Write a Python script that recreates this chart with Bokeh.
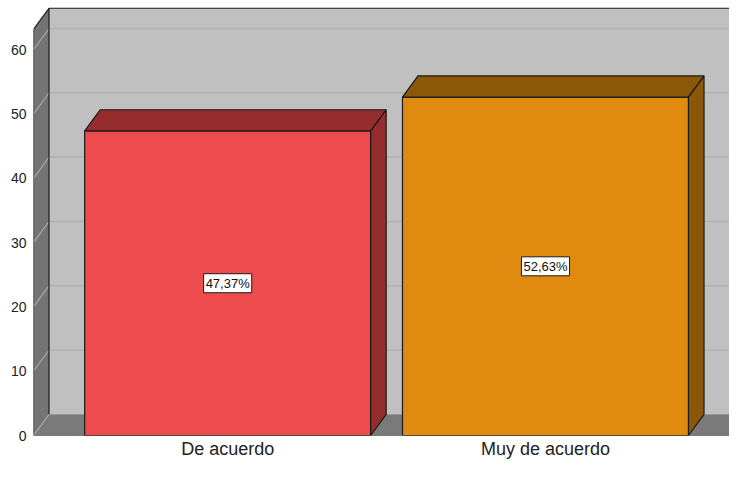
from bokeh.plotting import figure
from bokeh.models import Range1d, FixedTicker, ColumnDataSource
from bokeh.core.properties import value
from bokeh.embed import file_html
from bokeh.resources import INLINE

# ---------------- data ----------------
categories = ["De acuerdo", "Muy de acuerdo"]
percentages = [47.37, 52.63]
y_ticks = [0, 10, 20, 30, 40, 50, 60]
front_colors = ["#EE4B4D", "#E08A0F"]
shade_colors = ["#952D2F", "#8B5708"]

# ---------------- style / geometry ----------------
X0, X1 = 0.389, 2.611          # front plane extent (category units)
YMAX = max(percentages) * 1.2  # SPSS-style axis maximum
DX, DY = 0.0488, 3.3           # 3-D depth offset
BAR_W = 0.9
FONT = "Liberation Sans"
EDGE = "#1A1A1A"

p = figure(width=729, height=461,
           x_range=Range1d(X0, 2.579), y_range=Range1d(0, 67.66),
           output_backend="svg", toolbar_location=None,
           min_border_left=33, min_border_right=0,
           min_border_top=0, min_border_bottom=25)
p.outline_line_color = None
p.grid.visible = False
p.background_fill_color = "white"
p.border_fill_color = "white"

XR = X1 + DX + 0.1
# back wall
p.quad(left=[X0 + DX], right=[XR], bottom=[DY], top=[YMAX + DY],
       fill_color="#C0C0C0", line_color=None)
# back wall grid lines
gy = [t + DY for t in y_ticks[1:]]
p.segment(x0=[X0 + DX] * len(gy), x1=[XR] * len(gy), y0=gy, y1=gy,
          line_color="#B0B0B0", line_width=1.5)
# floor
p.patch(x=[X0, X1, X1 + DX, X0 + DX], y=[0, 0, DY, DY],
        fill_color="#7A7A7A", line_color=None)
# side wall
p.patch(x=[X0, X0 + DX, X0 + DX, X0], y=[0, DY, YMAX + DY, YMAX],
        fill_color="#747474", line_color=None)
# side wall grid lines
p.segment(x0=[X0] * len(y_ticks), x1=[X0 + DX] * len(y_ticks),
          y0=y_ticks, y1=[t + DY for t in y_ticks],
          line_color="#A8A8A8", line_width=1.2)
# wall edges
p.multi_line(xs=[[X0, X0], [X0, X0 + DX], [X0 + DX, XR], [X0 + DX, X0 + DX],
                 [X0, X1], [X1, X1 + DX]],
             ys=[[0, YMAX], [YMAX, YMAX + DY], [YMAX + DY, YMAX + DY], [DY, YMAX + DY],
                 [0, 0], [0, DY]],
             line_color=EDGE, line_width=1.2)

# bars
xc = [i + 1 for i in range(len(categories))]
left = [x - BAR_W / 2 for x in xc]
right = [x + BAR_W / 2 for x in xc]
src = ColumnDataSource(dict(x=xc, left=left, right=right, top=percentages,
                            bottom=[0] * len(xc), color=front_colors))
p.quad(left="left", right="right", bottom="bottom", top="top", source=src,
       fill_color="color", line_color=EDGE, line_width=1.2)
top_xs = [[l, r, r + DX, l + DX] for l, r in zip(left, right)]
top_ys = [[v, v, v + DY, v + DY] for v in percentages]
side_xs = [[r, r + DX, r + DX, r] for r in right]
side_ys = [[0, DY, v + DY, v] for v in percentages]
p.patches(xs=top_xs + side_xs, ys=top_ys + side_ys,
          fill_color=shade_colors + shade_colors,
          line_color=EDGE, line_width=1.2)

# value labels
lab = ColumnDataSource(dict(x=xc, y=[v / 2 for v in percentages],
                            t=[f"{v:.2f}".replace(".", ",") + "%" for v in percentages]))
p.text(x="x", y="y", text="t", source=lab, text_align="center",
       text_baseline="middle", text_font=value(FONT), text_font_size="13px",
       text_color="#111111", background_fill_color="white",
       border_line_color=EDGE, border_line_width=1, padding=2)

# axes
p.yaxis.ticker = FixedTicker(ticks=y_ticks)
p.yaxis.axis_line_color = None
p.yaxis.major_tick_line_color = None
p.yaxis.major_tick_out = 0
p.yaxis.major_tick_in = 0
p.yaxis.minor_tick_line_color = None
p.yaxis.major_label_standoff = 7
p.yaxis.major_label_text_font = FONT
p.yaxis.major_label_text_font_size = "14px"
p.yaxis.major_label_text_color = "#222222"

p.xaxis.ticker = FixedTicker(ticks=xc)
p.xaxis.major_label_overrides = {x: c for x, c in zip(xc, categories)}
p.xaxis.axis_line_color = None
p.xaxis.major_tick_line_color = None
p.xaxis.major_tick_out = 0
p.xaxis.major_tick_in = 0
p.xaxis.minor_tick_line_color = None
p.xaxis.major_label_standoff = 3
p.xaxis.major_label_text_font = FONT
p.xaxis.major_label_text_font_size = "18px"
p.xaxis.major_label_text_color = "#222222"

open("out.html", "w").write(file_html(p, INLINE))
